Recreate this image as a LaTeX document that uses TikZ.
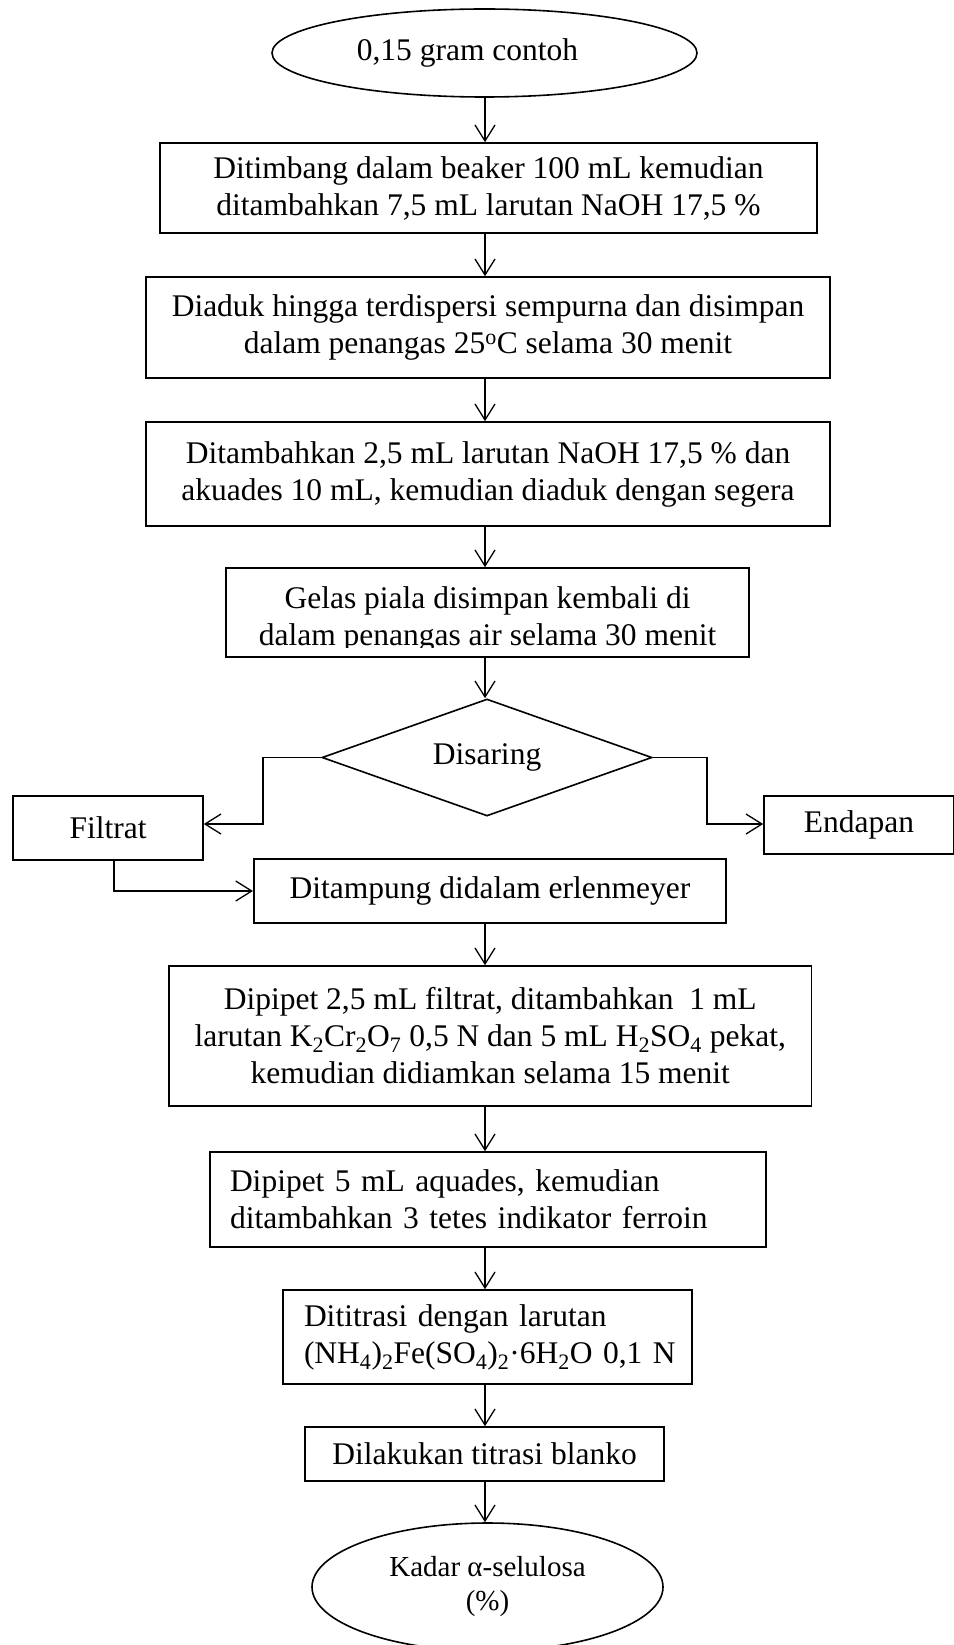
\documentclass[tikz,border=0pt]{standalone}
\usepackage{fontspec}
\setmainfont{Liberation Serif}
\usetikzlibrary{shapes.geometric,arrows.meta}
\tikzset{
  mainfont/.style={font=\fontsize{31.5}{37}\selectfont},
  box/.style={draw, line width=1.6pt, inner sep=0pt, align=center, mainfont},
  lbox/.style={draw, line width=1.6pt, inner sep=0pt, align=left, mainfont},
  txt/.style={inner sep=0pt, align=center, mainfont},
  conn/.style={line width=1.3pt, -{Straight Barb[length=16pt,width=20pt,line width=1.3pt]}},
}
\begin{document}
\begin{tikzpicture}[x=1pt,y=-1pt]
\useasboundingbox (0,0) rectangle (953,1645);
\coordinate (ax) at (485,0);

\node[draw, ellipse, line width=1.6pt, minimum width=425, minimum height=88, inner sep=0pt, mainfont] (e1) at (484.5,53) {0,15 gram contoh\hspace*{34pt}};

\node[box, minimum width=657, minimum height=90] (b1) at (488.5,188)
  {Ditimbang dalam beaker 100 mL kemudian\\ditambahkan 7,5 mL larutan NaOH 17,5 \%};

\node[box, minimum width=684, minimum height=101] (b2) at (488,327.5)
  {Diaduk hingga terdispersi sempurna dan disimpan\\dalam penangas 25\textsuperscript{o}C selama 30 menit};

\node[box, minimum width=684, minimum height=104] (b3) at (488,474)
  {Ditambahkan 2,5 mL larutan NaOH 17,5 \% dan\\akuades 10 mL, kemudian diaduk dengan segera};

\node[box, minimum width=523, minimum height=89] (b4) at (487.5,612.5) {};
\begin{scope}
  \clip (b4.north west) rectangle ([yshift=10pt]b4.south east);
  \node[txt] (b4t) at (487.5,619.5) {Gelas piala disimpan kembali di\\dalam penangas air selama 30 menit};
\end{scope}

\node[draw, diamond, shape aspect=2.82, line width=1.6pt, minimum width=330, minimum height=117, inner sep=0pt, mainfont] (d) at (487,757.5) {Disaring};

\node[box, minimum width=190, minimum height=64] (f) at (108,828) {Filtrat};
\node[box, minimum width=190, minimum height=58] (en) at (859,825) {Endapan};

\node[box, minimum width=472.5, minimum height=64] (b5) at (490,891) {Ditampung didalam erlenmeyer};

\node[box, minimum width=642.5, minimum height=140] (b6) at (490.25,1036)
  {Dipipet 2,5 mL filtrat, ditambahkan~ 1 mL\\larutan K\textsubscript{2}Cr\textsubscript{2}O\textsubscript{7} 0,5 N dan 5 mL H\textsubscript{2}SO\textsubscript{4} pekat,\\kemudian didiamkan selama 15 menit};

\node[lbox, minimum width=556, minimum height=95, text width=516pt] (b7) at (488,1199.5)
  {\mbox{Dipipet 5 mL aquades, kemudian}\\\mbox{ditambahkan 3 tetes indikator ferroin}};

\node[lbox, minimum width=409, minimum height=94, text width=367pt] (b8) at (487.5,1337)
  {\mbox{Dititrasi dengan larutan}\\\mbox{(NH\textsubscript{4})\textsubscript{2}Fe(SO\textsubscript{4})\textsubscript{2}·6H\textsubscript{2}O 0,1 N}};

\node[box, minimum width=359, minimum height=54] (b9) at (484.5,1454) {Dilakukan titrasi blanko};

\node[draw, ellipse, line width=1.6pt, minimum width=351, minimum height=128, inner sep=0pt, align=center, font=\fontsize{29}{34}\selectfont] (e2) at (487.5,1587) {Kadar α-selulosa\\(\%)};

% vertical connectors
\draw[conn] (e1.south -| ax) -- (b1.north -| ax);
\draw[conn] (b1.south -| ax) -- (b2.north -| ax);
\draw[conn] (b2.south -| ax) -- (b3.north -| ax);
\draw[conn] (b3.south -| ax) -- (b4.north -| ax);
\draw[conn] (b4.south -| ax) -- (d.north -| ax);
\draw[conn] (b5.south -| ax) -- (b6.north -| ax);
\draw[conn] (b6.south -| ax) -- (b7.north -| ax);
\draw[conn] (b7.south -| ax) -- (b8.north -| ax);
\draw[conn] (b8.south -| ax) -- (b9.north -| ax);
\draw[conn] (b9.south -| ax) -- (e2.north -| ax);

% branches
\coordinate (lk) at (263,824);
\coordinate (rk) at (707,824);
\coordinate (fk) at (114,892);
\draw[conn] (d.west) -| (lk) -- (lk -| f.east);
\draw[conn] (d.east) -| (rk) -- (rk -| en.west);
\draw[conn] (f.south -| fk) |- (b5.west);
\end{tikzpicture}
\end{document}
